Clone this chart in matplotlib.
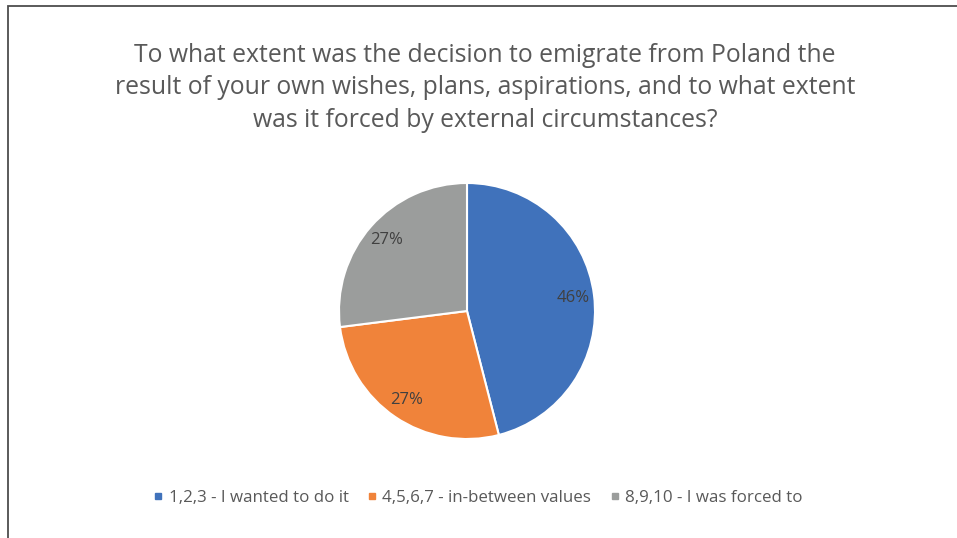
import matplotlib.pyplot as plt
from matplotlib.patches import Rectangle
from matplotlib.lines import Line2D

plt.rcParams['font.family'] = ['Open Sans', 'DejaVu Sans']

title = ('To what extent was the decision to emigrate from Poland the\n'
         'result of your own wishes, plans, aspirations, and to what extent\n'
         'was it forced by external circumstances?')
labels = ['1,2,3 - I wanted to do it', '4,5,6,7 - in-between values', '8,9,10 - I was forced to']
shares = [46, 27, 27]
colors = ['#4072bb', '#f0833a', '#9b9d9c']

W, H = 957, 538
fig = plt.figure(figsize=(W / 100, H / 100), dpi=100)

# chart frame (only left/top visible in the reference)
fig.patches.append(Rectangle((8 / W, -0.1), 1.2, (H - 6) / H + 0.1, transform=fig.transFigure,
                             fill=False, edgecolor='#4d4d4d', linewidth=1.3))

fig.text(485 / W, 1 - 88 / H, title, ha='center', va='center', fontsize=17.8,
         color='#595959', linespacing=1.42)

r = 128
ax = fig.add_axes([(467 - r) / W, (H - 311 - r) / H, 2 * r / W, 2 * r / H])
wedges, texts, autotexts = ax.pie(shares, colors=colors, startangle=90, counterclock=False,
                                  autopct='%1.0f%%', pctdistance=0.84,
                                  wedgeprops=dict(edgecolor='white', linewidth=1.5),
                                  textprops=dict(color='#404040', fontsize=12))
ax.set_xlim(-1, 1)
ax.set_ylim(-1, 1)
ax.set_aspect('equal')

handles = [Line2D([], [], marker='s', linestyle='', markersize=5, color=c) for c in colors]
fig.legend(handles, labels, loc='center', bbox_to_anchor=(478 / W, 1 - 498 / H), ncol=3,
           frameon=False, fontsize=12.2, labelcolor='#595959', handlelength=0.6,
           handletextpad=0.3, columnspacing=1.1)

fig.savefig('out.png', dpi=100)
